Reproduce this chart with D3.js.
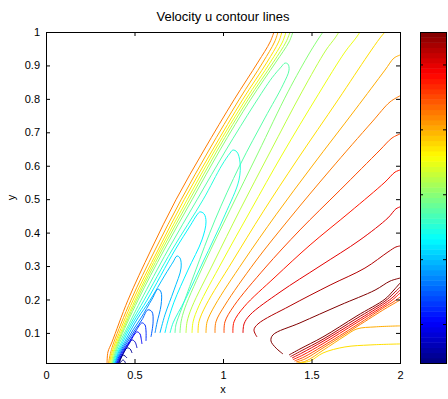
<!DOCTYPE html>
<html>
<head>
<meta charset="utf-8">
<title>Velocity u contour lines</title>
<script src="https://d3js.org/d3.v7.min.js"></script>
<style>
  body { margin: 0; background: #fff; }
  svg text { font-family: "Liberation Sans", Arial, Helvetica, sans-serif; fill: #000; }
</style>
</head>
<body>
<svg id="chart"></svg>
<script>
// contour levels of u, index 1..23
const levels = [0.00, 0.05, 0.10, 0.15, 0.20, 0.25, 0.30, 0.35, 0.40, 0.45, 0.50, 0.55,
                0.60, 0.65, 0.70, 0.75, 0.80, 0.85, 0.90, 0.95, 1.00, 1.05, 1.10];
const colorRange = [0.08, 1.1];
const colorbarTicks = [0.2, 0.4, 0.6, 0.8, 1.0];
const xTicks = [0, 0.5, 1, 1.5, 2];
const yTicks = [0.1, 0.2, 0.3, 0.4, 0.5, 0.6, 0.7, 0.8, 0.9, 1];

// [level index, [[x, y], ...]]
// lines along the shock that run up to the top edge
const shockLines = [
  [18, [[.345,.010],[.350,.043],[.373,.073],[.463,.198],[.593,.348],[.734,.498],[.893,.647],[1.062,.797],[1.198,.910],[1.266,.970],[1.288,1.0]]],
  [17, [[.353,.010],[.366,.043],[.384,.073],[.480,.198],[.616,.348],[.763,.498],[.921,.647],[1.090,.797],[1.226,.910],[1.291,.970],[1.311,1.0]]],
  [16, [[.359,.010],[.373,.043],[.393,.073],[.492,.198],[.633,.348],[.780,.498],[.941,.647],[1.110,.797],[1.249,.910],[1.314,.970],[1.333,1.0]]],
  [15, [[.364,.010],[.379,.043],[.400,.073],[.503,.198],[.644,.348],[.797,.498],[.955,.647],[1.127,.797],[1.268,.910],[1.336,.970],[1.356,1.0]]],
  [14, [[.370,.010],[.384,.043],[.406,.073],[.511,.198],[.655,.348],[.811,.498],[.969,.647],[1.141,.797],[1.285,.910],[1.356,.970],[1.379,1.0]]],
  [13, [[.375,.010],[.390,.043],[.411,.073],[.520,.198],[.667,.348],[.825,.498],[.983,.647],[1.155,.797],[1.299,.910],[1.373,.970],[1.395,1.0]]]
];

// hairpin loops behind the shock (low u)
const loopLines = [
  [12, [[.379,.010],[.395,.043],[.418,.073],[.452,.109],[.486,.145],[.537,.198],[.689,.348],[.853,.498],[1.017,.647],[1.175,.782],[1.277,.863],[1.328,.895],[1.350,.907],
        [1.367,.904],[1.373,.886],[1.339,.842],[1.237,.743],[1.096,.602],[.955,.438],[.842,.282],[.768,.175],[.734,.124],[.729,.100]]],
  [11, [[.382,.010],[.401,.043],[.427,.073],[.460,.109],[.497,.145],[.554,.198],[.712,.348],[.887,.498],[.994,.602],[1.040,.638],[1.056,.647],
        [1.079,.641],[1.096,.611],[1.090,.557],[1.011,.453],[.887,.312],[.785,.198],[.718,.130],[.701,.100]]],
  [10, [[.386,.010],[.407,.043],[.435,.073],[.469,.109],[.508,.145],[.571,.198],[.729,.348],[.814,.420],[.853,.453],[.870,.462],
        [.893,.456],[.904,.432],[.881,.378],[.802,.288],[.723,.192],[.684,.127],[.672,.100]]],
  [9,  [[.390,.010],[.412,.043],[.444,.073],[.480,.109],[.520,.145],[.588,.198],[.672,.273],[.718,.312],[.740,.330],
        [.757,.324],[.763,.294],[.723,.228],[.672,.154],[.644,.100]]],
  [8,  [[.393,.010],[.418,.043],[.452,.073],[.492,.109],[.537,.145],[.599,.201],[.633,.231],[.650,.222],[.650,.183],[.627,.130],[.616,.100]]],
  [7,  [[.397,.010],[.424,.043],[.460,.073],[.503,.109],[.542,.139],[.576,.169],[.599,.163],[.605,.133],[.593,.088]]],
  [6,  [[.400,.010],[.429,.043],[.469,.073],[.508,.106],[.542,.130],[.559,.124],[.565,.106],[.565,.076]]],
  [5,  [[.403,.010],[.435,.043],[.477,.076],[.514,.103],[.531,.097],[.537,.085],[.542,.067]]],
  [4,  [[.407,.010],[.441,.043],[.469,.067],[.486,.079],[.503,.073],[.514,.055]]],
  [3,  [[.410,.010],[.435,.037],[.458,.055],[.475,.052],[.486,.040]]],
  [2,  [[.414,.010],[.424,.025],[.435,.034],[.446,.031],[.458,.025]]],
  [1,  [[.418,.010],[.427,.016],[.435,.019],[.443,.016],[.449,.010]]]
];

// lines in the expansion region, from the body up to the top / right edge
const wakeLines = [
  [13, [[.757,.100],[.763,.133],[.785,.175],[.898,.312],[1.040,.468],[1.198,.638],[1.367,.821],[1.492,.940],[1.542,.982],[1.565,1.0]]],
  [14, [[.791,.100],[.797,.133],[.825,.178],[.949,.312],[1.096,.468],[1.266,.641],[1.446,.821],[1.582,.946],[1.633,.982],[1.655,1.0]]],
  [15, [[.825,.100],[.831,.133],[.864,.181],[.994,.312],[1.158,.468],[1.333,.632],[1.537,.812],[1.689,.940],[1.751,.982],[1.774,1.0]]],
  [16, [[.859,.100],[.864,.133],[.904,.183],[1.051,.312],[1.226,.462],[1.418,.617],[1.650,.797],[1.819,.931],[1.887,.982],[1.915,1.0]]],
  [17, [[.904,.100],[.910,.133],[.955,.183],[1.113,.312],[1.299,.453],[1.508,.602],[1.746,.767],[1.915,.886],[1.966,.922],[2.0,.931]]],
  [18, [[.955,.100],[.960,.133],[1.011,.183],[1.181,.312],[1.379,.444],[1.605,.587],[1.842,.731],[1.944,.791],[2.0,.809]]],
  [19, [[1.006,.100],[1.011,.133],[1.062,.181],[1.237,.294],[1.435,.408],[1.661,.527],[1.887,.647],[1.955,.683],[2.0,.695]]],
  [20, [[1.056,.100],[1.062,.133],[1.119,.178],[1.294,.267],[1.492,.363],[1.718,.462],[1.915,.551],[1.972,.581],[2.0,.587]]],
  [21, [[1.113,.100],[1.119,.127],[1.153,.154],[1.322,.222],[1.548,.300],[1.774,.378],[1.932,.444],[1.977,.471],[2.0,.477]]],
  [22, [[1.192,.088],[1.175,.109],[1.198,.127],[1.379,.181],[1.605,.243],[1.802,.294],[1.932,.342],[1.977,.357],[2.0,.360]]],
  [23, [[1.339,.037],[1.299,.055],[1.271,.076],[1.282,.094],[1.435,.130],[1.661,.183],[1.859,.228],[1.944,.255],[2.0,.264]]]
];

// tight bundle in the lower right corner
const cornerLines = [
  [23, [[1.373,.034],[1.435,.052],[1.565,.088],[1.757,.151],[1.915,.201],[1.960,.225],[2.0,.249]]],
  [22, [[1.381,.029],[1.441,.046],[1.565,.081],[1.757,.144],[1.915,.195],[1.960,.216],[2.0,.237]]],
  [21, [[1.390,.025],[1.446,.040],[1.565,.075],[1.757,.137],[1.915,.189],[1.960,.207],[2.0,.228]]],
  [20, [[1.395,.020],[1.452,.034],[1.565,.068],[1.757,.131],[1.915,.183],[1.960,.200],[2.0,.219]]],
  [19, [[1.404,.016],[1.458,.028],[1.565,.061],[1.757,.124],[1.915,.178],[1.960,.192],[2.0,.207]]],
  [18, [[1.412,.013],[1.463,.022],[1.565,.055],[1.757,.119],[1.915,.172],[1.960,.186],[2.0,.198]]],
  [17, [[1.418,.010],[1.469,.016],[1.565,.048],[1.689,.091],[1.757,.112],[1.859,.118],[2.0,.121]]],
  [16, [[1.429,.010],[1.492,.016],[1.565,.040],[1.689,.058],[1.831,.064],[2.0,.067]]]
];

const width = 448, height = 399;
const margin = { top: 32, right: 48, bottom: 36, left: 46 };

const svg = d3.select("#chart").attr("width", width).attr("height", height);

const x = d3.scaleLinear().domain([0, 2]).range([margin.left, width - margin.right]);
const y = d3.scaleLinear().domain([0.01, 1]).range([height - margin.bottom, margin.top]);

// matlab jet colormap
function jet(t) {
  t = Math.max(0, Math.min(1, t));
  const c = v => Math.max(0, Math.min(1, v));
  return d3.rgb(255 * c(1.5 - Math.abs(4 * t - 3)),
                255 * c(1.5 - Math.abs(4 * t - 2)),
                255 * c(1.5 - Math.abs(4 * t - 1)));
}
const color = v => jet((v - colorRange[0]) / (colorRange[1] - colorRange[0]));

svg.append("clipPath").attr("id", "plot-clip")
  .append("rect")
  .attr("x", x(0)).attr("y", y(1))
  .attr("width", x(2) - x(0)).attr("height", y(0.01) - y(1));

const line = d3.line()
  .x(d => x(d[0]))
  .y(d => y(d[1]))
  .curve(d3.curveCatmullRom.alpha(0.5));

const allLines = shockLines.concat(loopLines, wakeLines, cornerLines);

svg.append("g")
  .attr("clip-path", "url(#plot-clip)")
  .selectAll("path")
  .data(allLines)
  .join("path")
  .attr("fill", "none")
  .attr("stroke", d => color(levels[d[0] - 1]))
  .attr("stroke-width", 1)
  .attr("d", d => line(d[1]));

// axes, ticks pointing inwards on all four sides
const fmt = d3.format("~g");
const axisFont = g => g.attr("font-family", "Liberation Sans, Arial, sans-serif").attr("font-size", 11);

svg.append("g")
  .attr("transform", "translate(0," + y(0.01) + ")")
  .call(d3.axisBottom(x).tickValues(xTicks).tickFormat(fmt).tickSize(-4).tickPadding(8))
  .call(axisFont)
  .call(g => g.select(".domain").remove());
svg.append("g")
  .attr("transform", "translate(0," + y(1) + ")")
  .call(d3.axisTop(x).tickValues(xTicks).tickSize(-4).tickFormat(""))
  .call(g => g.select(".domain").remove());
svg.append("g")
  .attr("transform", "translate(" + x(0) + ",0)")
  .call(d3.axisLeft(y).tickValues(yTicks).tickFormat(fmt).tickSize(-4).tickPadding(6))
  .call(axisFont)
  .call(g => g.select(".domain").remove());
svg.append("g")
  .attr("transform", "translate(" + x(2) + ",0)")
  .call(d3.axisRight(y).tickValues(yTicks).tickSize(-4).tickFormat(""))
  .call(g => g.select(".domain").remove());

svg.append("rect")
  .attr("x", x(0) + 0.5).attr("y", y(1) + 0.5)
  .attr("width", x(2) - x(0)).attr("height", y(0.01) - y(1))
  .attr("fill", "none").attr("stroke", "#000").attr("stroke-width", 1);

svg.append("text")
  .attr("x", (x(0) + x(2)) / 2).attr("y", 21)
  .attr("text-anchor", "middle").attr("font-size", 13)
  .text("Velocity u contour lines");
svg.append("text")
  .attr("x", (x(0) + x(2)) / 2).attr("y", 393)
  .attr("text-anchor", "middle").attr("font-size", 11)
  .text("x");
svg.append("text")
  .attr("transform", "translate(15," + ((y(0.01) + y(1)) / 2) + ") rotate(-90)")
  .attr("text-anchor", "middle").attr("font-size", 11)
  .text("y");

// colour bar
const cb = { left: 420, width: 26 };
const cbScale = d3.scaleLinear().domain(colorRange).range([y(0.01), y(1)]);
const nColors = 64;
const steps = d3.range(nColors).map(i => colorRange[0] + i * (colorRange[1] - colorRange[0]) / nColors);
const stepH = (colorRange[1] - colorRange[0]) / nColors;

const cbg = svg.append("g");
cbg.selectAll("rect")
  .data(steps)
  .join("rect")
  .attr("x", cb.left)
  .attr("y", d => cbScale(d + stepH))
  .attr("width", cb.width)
  .attr("height", d => cbScale(d) - cbScale(d + stepH) + 0.5)
  .attr("fill", d => jet((d + stepH / 2 - colorRange[0]) / (colorRange[1] - colorRange[0])));

cbg.append("g")
  .attr("transform", "translate(" + cb.left + ",0)")
  .call(d3.axisRight(cbScale).tickValues(colorbarTicks).tickSize(3).tickFormat(""))
  .call(g => g.select(".domain").remove());
cbg.append("g")
  .attr("transform", "translate(" + (cb.left + cb.width) + ",0)")
  .call(d3.axisLeft(cbScale).tickValues(colorbarTicks).tickSize(3).tickFormat(""))
  .call(g => g.select(".domain").remove());

cbg.append("rect")
  .attr("x", cb.left + 0.5).attr("y", cbScale(colorRange[1]) + 0.5)
  .attr("width", cb.width).attr("height", cbScale(colorRange[0]) - cbScale(colorRange[1]))
  .attr("fill", "none").attr("stroke", "#000");
</script>
</body>
</html>
